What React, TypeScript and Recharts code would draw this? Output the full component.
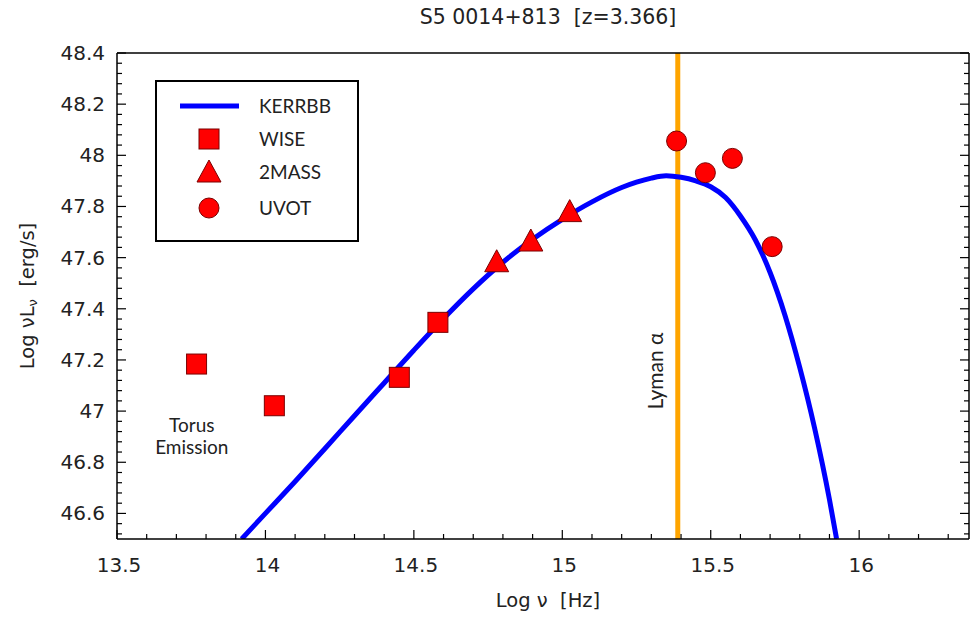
import React from 'react';
import {
  ComposedChart,
  Line,
  Scatter,
  XAxis,
  YAxis,
  ReferenceLine,
  ReferenceDot,
  Legend,
} from 'recharts';

// KERRBB accretion disc model
const kerrbbX = [
  13.92, 14.0, 14.1, 14.2, 14.3, 14.4, 14.5, 14.6, 14.7, 14.8, 14.9, 15.0, 15.1, 15.2, 15.25,
  15.3, 15.35, 15.4, 15.45, 15.5, 15.55, 15.6, 15.65, 15.7, 15.75, 15.8, 15.85, 15.9, 15.924,
];
const kerrbbY = [
  46.5, 46.6, 46.725, 46.853, 46.982, 47.11, 47.238, 47.362, 47.478, 47.582, 47.672, 47.75, 47.818, 47.874, 47.895,
  47.911, 47.92, 47.914, 47.9, 47.877, 47.835, 47.763, 47.67, 47.542, 47.375, 47.17, 46.933, 46.654, 46.5,
];

// photometry
const wiseX = [13.768, 14.03, 14.451, 14.581];
const wiseY = [47.184, 47.021, 47.132, 47.347];
const twoMassX = [14.779, 14.894, 15.025];
const twoMassY = [47.58, 47.661, 47.776];
const uvotX = [15.385, 15.482, 15.573, 15.707];
const uvotY = [48.056, 47.932, 47.988, 47.643];

const lymanAlpha = 15.389;

// ticks
const xMajor = [13.5, 14, 14.5, 15, 15.5, 16];
const xMajorLabels = ['13.5', '14', '14.5', '15', '15.5', '16'];
const yMajor = [46.6, 46.8, 47, 47.2, 47.4, 47.6, 47.8, 48, 48.2, 48.4];
const yMajorLabels = ['46.6', '46.8', '47', '47.2', '47.4', '47.6', '47.8', '48', '48.2', '48.4'];
const xTicks = Array.from({ length: 29 }, (_, i) => Math.round((13.5 + i * 0.1) * 10) / 10);
const yTicks = Array.from({ length: 48 }, (_, i) => Math.round((46.52 + i * 0.04) * 100) / 100);

const legendNames = ['KERRBB', 'WISE', '2MASS', 'UVOT'];
const title = 'S5 0014+813  [z=3.366]';

const toPts = (xs: number[], ys: number[]) => xs.map((x, i) => ({ x, y: ys[i] }));
const kerrbbData = toPts(kerrbbX, kerrbbY);
const wiseData = toPts(wiseX, wiseY);
const twoMassData = toPts(twoMassX, twoMassY);
const uvotData = toPts(uvotX, uvotY);

const RED = '#ff0000';
const DARK = '#7a0000';
const TICK_FONT = "'DejaVu Sans', sans-serif";
const TEXT_FONT = "Lato, 'DejaVu Sans', sans-serif";

const majorLabel = (v: number, majors: number[], labels: string[]) => {
  const i = majors.findIndex((m) => Math.abs(m - v) < 1e-6);
  return i >= 0 ? labels[i] : null;
};

const BottomTick = (props: any) => {
  const { x, y, payload } = props;
  const lab = majorLabel(payload.value, xMajor, xMajorLabels);
  return (
    <g>
      <line x1={x} y1={y} x2={x} y2={y - (lab ? 9 : 5)} stroke="#000" strokeWidth={1.2} />
      {lab && (
        <text x={x + 2} y={y + 33} textAnchor="middle" fontFamily={TICK_FONT} fontSize={20} fill="#222">
          {lab}
        </text>
      )}
    </g>
  );
};

const TopTick = (props: any) => {
  const { x, y, payload } = props;
  const lab = majorLabel(payload.value, xMajor, xMajorLabels);
  return <line x1={x} y1={y} x2={x} y2={y + (lab ? 9 : 5)} stroke="#000" strokeWidth={1.2} />;
};

const LeftTick = (props: any) => {
  const { x, y, payload } = props;
  const lab = majorLabel(payload.value, yMajor, yMajorLabels);
  return (
    <g>
      <line x1={x} y1={y} x2={x + (lab ? 9 : 5)} y2={y} stroke="#000" strokeWidth={1.2} />
      {lab && (
        <text x={x - 12} y={y + 7} textAnchor="end" fontFamily={TICK_FONT} fontSize={20} fill="#222">
          {lab}
        </text>
      )}
    </g>
  );
};

const RightTick = (props: any) => {
  const { x, y, payload } = props;
  const lab = majorLabel(payload.value, yMajor, yMajorLabels);
  return <line x1={x} y1={y} x2={x - (lab ? 9 : 5)} y2={y} stroke="#000" strokeWidth={1.2} />;
};

const SquareMark = (p: any) => (
  <rect x={p.cx - 10} y={p.cy - 10} width={20} height={20} fill={RED} stroke={DARK} strokeWidth={1} />
);
const TriangleMark = (p: any) => (
  <polygon
    points={`${p.cx},${p.cy - 13} ${p.cx - 12},${p.cy + 9} ${p.cx + 12},${p.cy + 9}`}
    fill={RED}
    stroke={DARK}
    strokeWidth={1}
  />
);
const CircleMark = (p: any) => <circle cx={p.cx} cy={p.cy} r={10} fill={RED} stroke={DARK} strokeWidth={1} />;

const LegendBox = () => {
  const rows = [26, 59, 92, 128];
  return (
    <svg width={204} height={162}>
      <rect x={1} y={1} width={202} height={160} fill="#fff" stroke="#000" strokeWidth={2} />
      <line x1={25} y1={rows[0]} x2={84} y2={rows[0]} stroke="#0000ff" strokeWidth={5} />
      <SquareMark cx={54} cy={rows[1]} />
      <TriangleMark cx={54} cy={rows[2] + 1} />
      <CircleMark cx={54} cy={rows[3]} />
      {legendNames.map((n, i) => (
        <text key={n} x={104} y={rows[i] + 7} fontFamily={TEXT_FONT} fontSize={19} fill="#222">
          {n}
        </text>
      ))}
    </svg>
  );
};

const TorusLabel = (props: any) => {
  const vb = props.viewBox;
  const cx = vb.x + vb.width / 2;
  const cy = vb.y + vb.height / 2;
  return (
    <text textAnchor="middle" fontFamily={TEXT_FONT} fontSize={19} fill="#222">
      <tspan x={cx} y={cy - 5}>Torus</tspan>
      <tspan x={cx} y={cy + 17}>Emission</tspan>
    </text>
  );
};

const LymanLabel = (props: any) => {
  const vb = props.viewBox;
  const cx = vb.x + vb.width / 2;
  const cy = vb.y + vb.height / 2;
  return (
    <text
      x={cx}
      y={cy}
      transform={`rotate(-90 ${cx} ${cy})`}
      textAnchor="middle"
      dominantBaseline="central"
      fontFamily={TEXT_FONT}
      fontSize={21}
      fill="#222"
    >
      Lyman α
    </text>
  );
};

export default function App() {
  return (
    <div style={{ position: 'absolute', left: 0, top: 0, width: 970, height: 617, background: '#fff' }}>
      <ComposedChart width={970} height={617} margin={{ top: 52, right: 0, bottom: 77, left: 116 }}>
        <XAxis
          xAxisId="b"
          dataKey="x"
          type="number"
          domain={[13.5, 16.37]}
          allowDataOverflow
          ticks={xTicks}
          interval={0}
          height={1}
          tickSize={0}
          tickMargin={0}
          tick={<BottomTick />}
          axisLine={{ stroke: '#000', strokeWidth: 1.5 }}
          label={{
            content: (p: any) => (
              <text
                x={p.viewBox.x + p.viewBox.width / 2 + 5}
                y={p.viewBox.y + 68}
                textAnchor="middle"
                fontFamily={TICK_FONT}
                fontSize={19.5}
                fill="#222"
                style={{ whiteSpace: 'pre' }}
              >
                {'Log ν  [Hz]'}
              </text>
            ),
          }}
        />
        <XAxis
          xAxisId="t"
          orientation="top"
          type="number"
          domain={[13.5, 16.37]}
          allowDataOverflow
          ticks={xTicks}
          interval={0}
          height={1}
          tickSize={0}
          tickMargin={0}
          tick={<TopTick />}
          axisLine={{ stroke: '#000', strokeWidth: 1.5 }}
          label={{
            content: (p: any) => (
              <text
                x={p.viewBox.x + p.viewBox.width / 2 + 5}
                y={p.viewBox.y - 28}
                textAnchor="middle"
                fontFamily={TICK_FONT}
                fontSize={20.5}
                fill="#222"
                style={{ whiteSpace: 'pre' }}
              >
                {title}
              </text>
            ),
          }}
        />
        <YAxis
          yAxisId="l"
          dataKey="y"
          type="number"
          domain={[46.5, 48.4]}
          allowDataOverflow
          ticks={yTicks}
          interval={0}
          width={1}
          tickSize={0}
          tickMargin={0}
          tick={<LeftTick />}
          axisLine={{ stroke: '#000', strokeWidth: 1.5 }}
          label={{
            content: (p: any) => {
              const cx = 27;
              const cy = p.viewBox.y + p.viewBox.height / 2;
              return (
                <text
                  x={cx}
                  y={cy}
                  transform={`rotate(-90 ${cx} ${cy})`}
                  textAnchor="middle"
                  dominantBaseline="central"
                  fontFamily={TICK_FONT}
                  fontSize={19.5}
                  fill="#222"
                  style={{ whiteSpace: 'pre' }}
                >
                  Log νL
                  <tspan fontSize={13} dy={5}>ν</tspan>
                  <tspan dy={-5}>{'  [erg/s]'}</tspan>
                </text>
              );
            },
          }}
        />
        <YAxis
          yAxisId="r"
          orientation="right"
          type="number"
          domain={[46.5, 48.4]}
          allowDataOverflow
          ticks={yTicks}
          interval={0}
          width={1}
          tickSize={0}
          tickMargin={0}
          tick={<RightTick />}
          axisLine={{ stroke: '#000', strokeWidth: 1.5 }}
        />
        <ReferenceLine
          xAxisId="b"
          yAxisId="l"
          x={lymanAlpha}
          stroke="#ffa500"
          strokeWidth={5}
        />
        <ReferenceDot
          xAxisId="b"
          yAxisId="l"
          x={15.312}
          y={47.157}
          r={0}
          fill="none"
          stroke="none"
          label={(p: any) => <LymanLabel {...p} />}
        />
        <ReferenceDot
          xAxisId="b"
          yAxisId="l"
          x={13.752}
          y={46.9}
          r={0}
          fill="none"
          stroke="none"
          label={(p: any) => <TorusLabel {...p} />}
        />
        <Line
          xAxisId="b"
          yAxisId="l"
          data={kerrbbData}
          dataKey="y"
          type="monotone"
          stroke="#0000ff"
          strokeWidth={5}
          dot={false}
          activeDot={false}
          isAnimationActive={false}
        />
        <Scatter xAxisId="b" yAxisId="l" data={wiseData} shape={<SquareMark />} isAnimationActive={false} />
        <Scatter xAxisId="b" yAxisId="l" data={twoMassData} shape={<TriangleMark />} isAnimationActive={false} />
        <Scatter xAxisId="b" yAxisId="l" data={uvotData} shape={<CircleMark />} isAnimationActive={false} />
        <Legend
          layout="horizontal"
          verticalAlign="middle"
          align="center"
          content={() => <LegendBox />}
          wrapperStyle={{ position: 'absolute', left: 155, top: 80, width: 204, height: 162 }}
        />
      </ComposedChart>
    </div>
  );
}
